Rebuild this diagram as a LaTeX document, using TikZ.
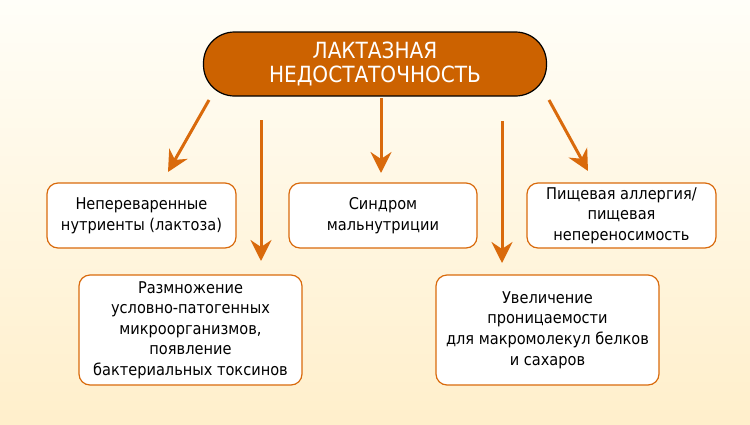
\documentclass[tikz,border=0pt]{standalone}
\usepackage{fontspec}
\setmainfont{DejaVu Sans Condensed}
\usepackage{tikz}
\usetikzlibrary{arrows.meta}
\definecolor{cream}{RGB}{255, 254, 248}
\definecolor{peach}{RGB}{255, 239, 203}
\definecolor{rust}{RGB}{204, 98, 0}
\definecolor{amber}{RGB}{217, 106, 12}

\begin{document}
\begin{tikzpicture}[x=1pt, y=-1pt,
    effect/.style={draw=amber, line width=1.2pt, fill=white, rounded corners=11pt,
                   align=center, inner sep=0pt, font=\fontsize{16.2}{20.6}\selectfont},
    cause/.style={draw=black, line width=1.2pt, fill=rust, text=white, rounded corners=31pt,
                  align=center, inner sep=0pt, minimum width=343pt, minimum height=64pt,
                  font=\fontsize{22.3}{24}\selectfont},
    arr/.style={amber, line width=3pt, -{Stealth[length=21pt, width=21pt, inset=7pt]}}]
  \useasboundingbox (0, 0) rectangle (750, 424);
  
  \shade[top color=cream, bottom color=peach] (0, 0) rectangle (750, 424);
  
  \node[cause] (lactase) at (375, 64) {ЛАКТАЗНАЯ\\НЕДОСТАТОЧНОСТЬ};
  
  \node[effect, minimum width=189pt, minimum height=65pt] (nutrients) at (141.5, 215.5)
    {Непереваренные\\нутриенты (лактоза)};
  \node[effect, minimum width=188pt, minimum height=65pt] (malnutrition) at (383, 215.5)
    {Синдром\\мальнутриции};
  \node[effect, minimum width=189pt, minimum height=65pt] (allergy) at (621.5, 215.5)
    {Пищевая аллергия/\\пищевая\\непереносимость};
  \node[effect, minimum width=223pt, minimum height=110pt] (microbes) at (190.5, 330)
    {Размножение\\условно-патогенных\\микроорганизмов,\\появление\\бактериальных токсинов};
  \node[effect, minimum width=223pt, minimum height=110pt] (permeability) at (547.5, 330)
    {Увеличение\\проницаемости\\для макромолекул белков\\и сахаров};
  
  % arrow ends
  \coordinate (a1s) at (209, 100);
  \coordinate (a1e) at (168, 172);
  \coordinate (a2s) at (261, 120);
  \coordinate (a2e) at (261, 261);
  \coordinate (a3s) at (381, 98);
  \coordinate (a3e) at (381, 173);
  \coordinate (a4s) at (502, 121);
  \coordinate (a4e) at (502, 263);
  \coordinate (a5s) at (549, 100);
  \coordinate (a5e) at (588, 171);
  
  \foreach \i in {1, ..., 5} {
    \draw[arr] (a\i s) -- (a\i e);
  }
  
\end{tikzpicture}
\end{document}
